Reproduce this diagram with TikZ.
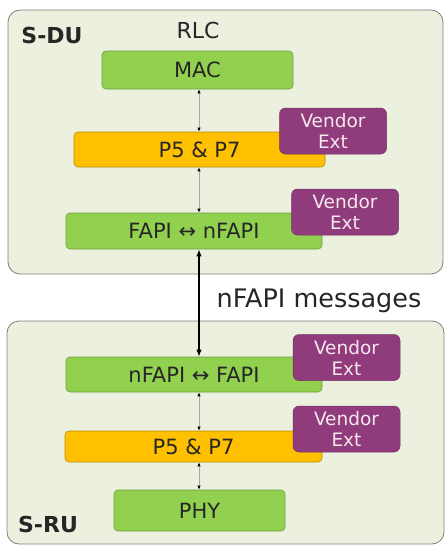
\documentclass[tikz,border=0pt]{standalone}
\usepackage{fontspec}
\setmainfont{DejaVu Sans}
\usetikzlibrary{arrows.meta,positioning,calc}

\definecolor{panelbg}{HTML}{EBF1DE}
\definecolor{panelline}{HTML}{7F7F7F}
\definecolor{layergreen}{HTML}{92D050}
\definecolor{greenline}{HTML}{6E9E3C}
\definecolor{layerorange}{HTML}{FFC000}
\definecolor{orangeline}{HTML}{B98C00}
\definecolor{vendorpurple}{HTML}{903C7C}
\definecolor{vendortext}{HTML}{F6E6EE}
\definecolor{txt}{HTML}{262626}

\begin{document}
\begin{tikzpicture}[
  x=1pt, y=-1pt,
  >=Latex,
  panel/.style={draw=panelline, line width=0.8pt, fill=panelbg, rounded corners=12pt},
  layer/.style={draw=greenline, line width=0.6pt, fill=layergreen, rounded corners=4pt, inner sep=0pt, text=txt, font=\fontsize{21}{24}\selectfont},
  p57/.style={layer, draw=orangeline, fill=layerorange},
  vendor/.style={draw=vendorpurple!80!black, line width=0.5pt, fill=vendorpurple, rounded corners=6pt, inner sep=0pt, align=center, text=vendortext, minimum width=107pt, minimum height=46pt, font=\fontsize{18.5}{21}\selectfont},
  tag/.style={text=txt, inner sep=0pt, font=\fontsize{22}{26}\selectfont},
  internal/.style={{Latex[length=4pt,width=3.4pt,color=black]}-{Latex[length=4pt,width=3.4pt,color=black]}, draw=black!35, line width=0.8pt},
  wire/.style={{Latex[length=7pt,width=5.5pt]}-{Latex[length=7pt,width=5.5pt]}, draw=black, line width=1.8pt}
]
\useasboundingbox (0,0) rectangle (447,552);

% containers
\draw[panel] (8,10) rectangle (443,274);
\draw[panel] (7,321) rectangle (444,544);

\node[tag, font=\fontsize{22}{26}\selectfont\bfseries] (du) at (52,35) {S-DU};
\node[tag, font=\fontsize{22}{26}\selectfont\bfseries] (ru) at (48,524) {S-RU};
\node[tag] (rlc) at (198,30) {RLC};

% S-DU stack
\node[layer, minimum width=191pt, minimum height=38pt] (mac) at (197.5,70) {MAC};
\node[p57, minimum width=251pt, minimum height=35pt] (p5du) at (199.5,149.5) {P5 \& P7};
\node[layer, minimum width=256pt, minimum height=36pt] (fapidu) at (194,231) {FAPI ↔ nFAPI};
\node[vendor] (extdua) at (333,131) {Vendor\\Ext};
\node[vendor] (extdub) at (345,212) {Vendor\\Ext};

% S-RU stack
\node[layer, minimum width=256pt, minimum height=35pt] (fapiru) at (194,374.5) {nFAPI ↔ FAPI};
\node[p57, minimum width=257pt, minimum height=31pt] (p5ru) at (193.5,446.5) {P5 \& P7};
\node[layer, minimum width=171pt, minimum height=41pt] (phy) at (199.5,510.5) {PHY};
\node[vendor] (extrua) at (346.5,357.5) {Vendor\\Ext};
\node[vendor] (extrub) at (346.5,429) {Vendor\\Ext};

\node[tag, font=\fontsize{25.5}{30}\selectfont] (msgs) at (319,301) {nFAPI messages};

\coordinate (axis) at (199,0);
\draw[internal] (mac.south -| axis) -- (p5du.north -| axis);
\draw[internal] (p5du.south -| axis) -- (fapidu.north -| axis);
\draw[wire] (fapidu.south -| axis) -- (fapiru.north -| axis);
\draw[internal] (fapiru.south -| axis) -- (p5ru.north -| axis);
\draw[internal] (p5ru.south -| axis) -- (phy.north -| axis);

\end{tikzpicture}
\end{document}
